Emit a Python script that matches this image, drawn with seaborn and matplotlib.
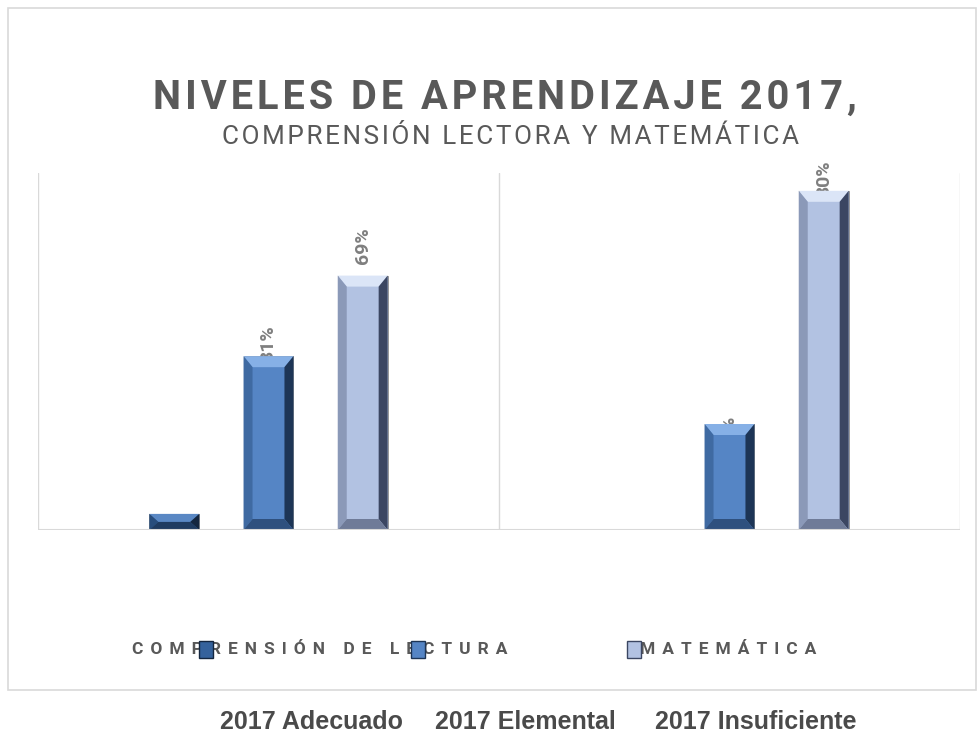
import numpy as np
import pandas as pd
import matplotlib
matplotlib.use("Agg")
import matplotlib.pyplot as plt
import seaborn as sns
from matplotlib.patches import Polygon, Rectangle

# ---- data ----
categories = ["COMPRENSIÓN DE LECTURA", "MATEMÁTICA"]
series = ["2017 Adecuado", "2017 Elemental", "2017 Insuficiente"]
adecuado = [3.8, 0.0]
elemental = [41.0, 25.0]
insuficiente = [60.0, 80.0]
adecuado_labels = ["", ""]
elemental_labels = ["31%", "%"]
insuficiente_labels = ["69%", "80%"]

title = "NIVELES DE APRENDIZAJE 2017,"
subtitle = "COMPRENSIÓN LECTORA Y MATEMÁTICA"

df = pd.DataFrame({
    "cat": categories * 3,
    "serie": [s for s in series for _ in categories],
    "val": adecuado + elemental + insuficiente,
})
all_labels = adecuado_labels + elemental_labels + insuficiente_labels

sns.set_theme(style="white")
plt.rcParams["font.family"] = ["Roboto", "DejaVu Sans"]

main_cols = ["#35629c", "#5585c5", "#b2c2e2"]
top_cols = ["#5a88c4", "#86b0e6", "#dbe5f7"]
left_cols = ["#284d7c", "#3f6aa2", "#8b99b8"]
right_cols = ["#14263f", "#1d3556", "#3b4662"]
bot_cols = ["#1f3b60", "#2f507e", "#6f7b98"]

W, H = 978, 738
fig = plt.figure(figsize=(W / 100, H / 100), dpi=100)

# outer frame
fig.patches.append(Rectangle((8 / W, 1 - 690 / H), (976 - 8) / W, (690 - 8) / H,
                             transform=fig.transFigure, fill=False,
                             edgecolor="#d9d9d9", linewidth=1.2, zorder=0))

ax_l, ax_r, ax_b, ax_t = 38, 960, 530, 173
ax = fig.add_axes([ax_l / W, 1 - ax_b / H, (ax_r - ax_l) / W, (ax_b - ax_t) / H])

sns.barplot(data=df, x="cat", y="val", hue="serie", order=categories,
            hue_order=series, palette=main_cols, width=0.613, gap=0.47,
            ax=ax, legend=False, edgecolor="#8c8c8c", linewidth=0.6,
            zorder=3, saturation=1)

ymax = 84.2
ax.set_ylim(0, ymax)
ax.set_xlim(-0.5, 1.5)
for s in ax.spines.values():
    s.set_visible(False)
ax.set_xticks([])
ax.set_yticks([])
ax.set_xlabel("")
ax.set_ylabel("")
for xv in [-0.5, 0.5, 1.5]:
    ax.axvline(xv, color="#d9d9d9", lw=1.0, zorder=1)
ax.axhline(0, color="#d9d9d9", lw=1.5, zorder=4)

px_x = (ax_r - ax_l) / 2.0
px_y = (ax_b - ax_t) / ymax

# bevel decoration + labels
label_off_px = [0, 0, -6, -7, 12, -6]
for i, p in enumerate(ax.patches):
    h = p.get_height()
    si = i // len(categories)
    x0 = p.get_x()
    x1 = x0 + p.get_width()
    if h > 0:
        bx = min(9 / px_x, p.get_width() / 2.5)
        by = min(11 / px_y, h / 2.0)
        kw = dict(closed=True, linewidth=0, zorder=3.5)
        ax.add_patch(Polygon([(x0, h), (x1, h), (x1 - bx, h - by), (x0 + bx, h - by)],
                             facecolor=top_cols[si], **kw))
        ax.add_patch(Polygon([(x1, h), (x1, 0), (x1 - bx, by), (x1 - bx, h - by)],
                             facecolor=right_cols[si], **kw))
        ax.add_patch(Polygon([(x0, h), (x0 + bx, h - by), (x0 + bx, by), (x0, 0)],
                             facecolor=left_cols[si], **kw))
        ax.add_patch(Polygon([(x0, 0), (x0 + bx, by), (x1 - bx, by), (x1, 0)],
                             facecolor=bot_cols[si], **kw))
    lbl = all_labels[i]
    if lbl:
        ax.text(x0 + p.get_width() / 2, h + label_off_px[i] / px_y, lbl,
                rotation=90, ha="center", va="bottom", fontsize=14,
                fontweight="bold", color="#7f7f7f", zorder=2)

def track(s, n=1):
    return ("\u200a" * n).join(list(s))

# title and subtitle
fig.text(505 / W, 1 - 98 / H, track(title, 1), ha="center", va="center",
         fontsize=28.6, fontweight="bold", color="#595959")
fig.text(511 / W, 1 - 137 / H, track(subtitle, 1), ha="center", va="center",
         fontsize=18.7, fontweight="normal", color="#595959")

# category labels
cat_x = [320, 728]
for cx, c in zip(cat_x, categories):
    fig.text(cx / W, 1 - 650 / H, track(c, 4), ha="center",
             va="center", fontsize=12.5, fontweight="bold", color="#595959")

# misplaced legend markers
marker_x = [199, 411, 627]
for mx, mc, tc, rc in zip(marker_x, main_cols, top_cols, right_cols):
    fig.patches.append(Rectangle((mx / W, 1 - 658 / H), 14 / W, 17 / H,
                                 transform=fig.transFigure, facecolor=mc,
                                 edgecolor=rc, linewidth=1.0, zorder=5))

# legend texts
leg_x = [311, 525, 756]
for lx, s in zip(leg_x, series):
    fig.text(lx / W, 1 - 722 / H, s, ha="center", va="center", fontsize=18,
             fontweight="bold", color="#4a4a4a",
             family=["Liberation Sans", "DejaVu Sans"])

fig.savefig("out.png", dpi=100, facecolor="white")
